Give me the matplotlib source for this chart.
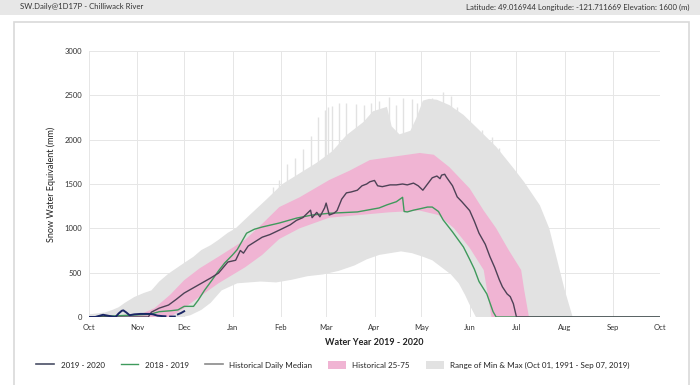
import matplotlib.pyplot as plt
import matplotlib.patches as mpatches
from matplotlib.lines import Line2D
import numpy as np

plt.rcParams["font.family"] = ["Lato", "DejaVu Sans"]

# Settings
FIG_SIZE = (7.0, 3.85)
FIG_DPI = 100

MONTH_DAYS = [0, 31, 61, 92, 123, 152, 183, 213, 244, 274, 305, 336, 366]
MONTH_LABELS = ["Oct", "Nov", "Dec", "Jan", "Feb", "Mar", "Apr", "May", "Jun", "Jul", "Aug", "Sep", "Oct"]

# days since Oct 01, 2019 -> snow water equivalent (mm)
max_days = [0, 5, 10, 15, 19, 23, 29, 35, 40, 45, 51, 56, 61, 67, 72, 78, 83, 89, 94, 103, 114, 124,
            135, 146, 156, 165, 176, 182, 191, 194, 199, 206, 210, 214, 218, 223, 231, 240, 250, 261,
            272, 279, 289, 295, 300, 305, 310]
max_vals = [30, 40, 50, 80, 110, 160, 225, 270, 300, 400, 490, 550, 610, 680, 755, 810, 870, 950, 1000,
            1150, 1330, 1500, 1620, 1740, 1870, 2050, 2200, 2320, 2370, 2150, 2060, 2100, 2250, 2440,
            2460, 2450, 2390, 2280, 2110, 1920, 1680, 1520, 1260, 1000, 650, 300, 0]

min_days = [0, 60, 65, 72, 78, 85, 95, 110, 120, 130, 140, 150, 160, 170, 178, 186, 193, 200, 207,
            214, 220, 226, 232, 237, 241, 245, 248, 310]
min_vals = [0, 0, 20, 80, 160, 300, 380, 400, 390, 420, 460, 480, 520, 580, 650, 700, 720, 740, 720,
            680, 640, 560, 480, 380, 250, 100, 0, 0]

spike_days = [118, 122, 127, 132, 137, 142, 147, 151, 153, 156, 160, 165, 171, 176, 181, 186, 192,
              197, 201, 207, 210, 220, 227, 232, 236, 242, 247, 252, 258, 263]
spike_vals = [1466, 1545, 1730, 1790, 1900, 2042, 2260, 2335, 2372, 2380, 2417, 2417, 2399, 2391,
              2410, 2440, 2485, 2391, 2466, 2455, 2410, 2474, 2534, 2493, 2372, 2222, 2128, 2109,
              2027, 1903]

p75_days = [0, 26, 33, 42, 52, 61, 71, 83, 100, 111, 122, 135, 154, 167, 180, 192, 212, 221, 231,
            244, 253, 261, 269, 277, 279, 282]
p75_vals = [0, 0, 30, 100, 250, 415, 550, 680, 870, 1050, 1240, 1350, 1545, 1650, 1770, 1800, 1850,
            1830, 1690, 1450, 1200, 1000, 755, 530, 300, 0]

p25_days = [0, 52, 61, 71, 83, 100, 111, 122, 135, 154, 173, 192, 212, 224, 234, 244, 253, 258, 282]
p25_vals = [0, 0, 100, 230, 380, 560, 700, 880, 1000, 1120, 1150, 1180, 1200, 1150, 1000, 780, 530,
            0, 0]

median_days = [0, 38, 40, 45, 51, 56, 61, 67, 72, 78, 83, 89, 94, 97, 99, 102, 111, 116, 122, 129,
               133, 137, 142, 143, 146, 148, 151, 152, 154, 157, 159, 162, 165, 168, 172, 175, 178,
               180, 183, 185, 188, 193, 197, 201, 204, 208, 211, 214, 217, 220, 223, 225, 226, 228,
               229, 233, 236, 239, 242, 244, 247, 250, 254, 257, 260, 263, 265, 268, 270, 272, 274,
               366]
median_vals = [0, 0, 55, 100, 135, 200, 270, 330, 380, 440, 495, 620, 640, 750, 720, 800, 900, 930,
               980, 1040, 1090, 1120, 1205, 1120, 1180, 1130, 1230, 1285, 1150, 1170, 1200, 1330,
               1400, 1410, 1430, 1480, 1500, 1525, 1540, 1480, 1470, 1490, 1490, 1500, 1490, 1510,
               1480, 1430, 1500, 1570, 1590, 1560, 1600, 1610, 1580, 1480, 1355, 1300, 1240, 1200,
               1080, 945, 820, 680, 560, 420, 340, 260, 230, 150, 0, 0]

wy2019_days = [0, 39, 45, 52, 57, 61, 67, 70, 74, 79, 83, 87, 92, 95, 101, 106, 111, 122, 133, 143,
               154, 172, 186, 191, 197, 201, 202, 204, 208, 212, 217, 220, 224, 227, 233, 240, 244,
               247, 250, 255, 259, 261, 366]
wy2019_vals = [0, 30, 60, 70, 80, 120, 120, 190, 300, 420, 520, 610, 700, 760, 945, 990, 1015, 1060,
               1115, 1150, 1170, 1185, 1230, 1265, 1300, 1350, 1190, 1185, 1205, 1220, 1240, 1240,
               1190, 1095, 960, 790, 650, 540, 400, 260, 60, 0, 0]

wy2020_days = [0, 4, 7, 9, 12, 15, 17, 19, 21, 22, 24, 26, 29, 33, 39, 41, 44, 47, 49, 50, 52, 55,
               56, 57, 59, 61]
wy2020_vals = [0, 0, 15, 25, 15, 5, 0, 40, 70, 75, 50, 20, 30, 35, 35, 30, 15, 10, 8, np.nan, 5, 5,
               np.nan, 30, 45, 65]

GRAY = "#e2e2e2"
PINK = "#f0b4d3"
GREEN = "#3f9a5c"
MEDIAN = "#4e4256"
NAVY = "#1b2766"


def draw_frame(fig):
    fig.patches.append(mpatches.Rectangle((0, 1 - 15 / 385), 1, 15 / 385, transform=fig.transFigure,
                                          facecolor="#e7e7e7", edgecolor="none", zorder=-2))
    fig.patches.append(mpatches.Rectangle((14 / 700, -0.05), 675 / 700, 1.05 - 22 / 385,
                                          transform=fig.transFigure, facecolor="white",
                                          edgecolor="#d9d9d9", linewidth=1.2, zorder=-2))
    fig.text(20 / 700, 1 - 7 / 385, "SW.Daily@1D17P - Chilliwack River", fontsize=5.6,
             color="#333333", va="center", ha="left")
    fig.text(690 / 700, 1 - 7 / 385,
             "Latitude: 49.016944 Longitude: -121.711669 Elevation: 1600 (m)", fontsize=5.6,
             color="#333333", va="center", ha="right")


def draw_chart(ax):
    band_x = max_days + min_days[::-1]
    band_y = max_vals + min_vals[::-1]
    ax.fill(band_x, band_y, color=GRAY, linewidth=0, zorder=1)
    ax.vlines(spike_days, 1200, spike_vals, color=GRAY, linewidth=1.0, zorder=1)

    pink_x = p75_days + p25_days[::-1]
    pink_y = p75_vals + p25_vals[::-1]
    ax.fill(pink_x, pink_y, color=PINK, linewidth=0, zorder=2)

    ax.plot(wy2019_days, wy2019_vals, color=GREEN, linewidth=1.0, zorder=3)
    ax.plot(median_days, median_vals, color=MEDIAN, linewidth=1.0, zorder=4)
    ax.plot(wy2020_days, wy2020_vals, color=NAVY, linewidth=1.4, zorder=5)

    ax.set_xlim(0, 366)
    ax.set_ylim(0, 3000)
    ax.set_xticks(MONTH_DAYS)
    ax.set_xticklabels(MONTH_LABELS)
    ax.set_yticks(range(0, 3001, 500))
    ax.tick_params(length=0, labelsize=5.5, labelcolor="#333333", pad=5)
    ax.grid(color="#e6e6e6", linewidth=0.7, zorder=0)
    ax.set_axisbelow(True)
    for s in ax.spines.values():
        s.set_visible(False)

    ax.set_xlabel("Water Year 2019 - 2020", fontsize=6.5, fontweight="bold", color="#222222",
                  labelpad=5)
    ax.set_ylabel("Snow Water Equivalent (mm)", fontsize=6.5, color="#222222", labelpad=6)


def draw_legend(fig):
    handles = [
        Line2D([], [], color="#4a4f66", linewidth=1.2),
        Line2D([], [], color=GREEN, linewidth=1.0),
        Line2D([], [], color="#8a8a8a", linewidth=1.2),
        mpatches.Patch(facecolor=PINK, edgecolor="none"),
        mpatches.Patch(facecolor=GRAY, edgecolor="none"),
    ]
    labels = ["2019 - 2020", "2018 - 2019", "Historical Daily Median", "Historical 25-75",
              "Range of Min & Max (Oct 01, 1991 - Sep 07, 2019)"]
    fig.legend(handles, labels, loc="center", bbox_to_anchor=(333 / 700, 1 - 365 / 385), ncol=5,
               frameon=False, fontsize=5.8, handlelength=2.2, handleheight=1.3, columnspacing=2.0,
               handletextpad=0.8, labelcolor="#222222")


fig = plt.figure(figsize=FIG_SIZE, dpi=FIG_DPI)
draw_frame(fig)
ax = fig.add_axes([89 / 700, 68 / 385, 571 / 700, 266 / 385])
ax.set_facecolor("none")
ax.set_zorder(2)
draw_chart(ax)
draw_legend(fig)
fig.savefig("out.png", dpi=FIG_DPI)
